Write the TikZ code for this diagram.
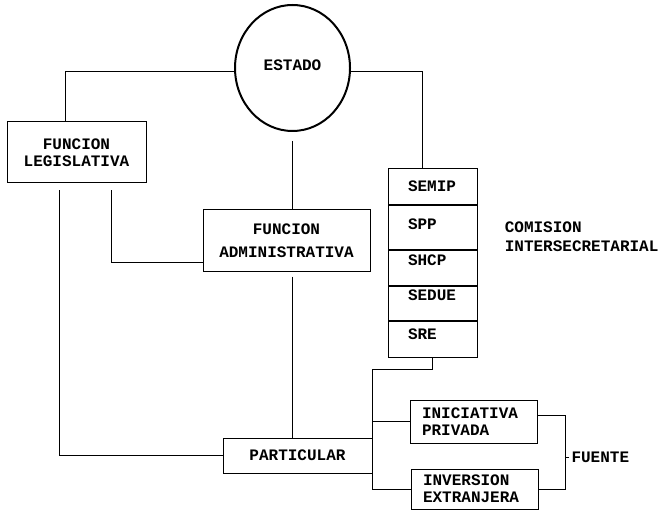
\documentclass[tikz,border=0pt]{standalone}
\usepackage{fontspec}
\setmonofont{Liberation Mono}
\usetikzlibrary{calc,positioning,shapes.geometric}

\begin{document}
\begin{tikzpicture}[x=1pt, y=-1pt, line width=1pt,
    every node/.style={font=\ttfamily\bfseries\fontsize{16}{17}\selectfont},
    box node/.style={draw, rectangle, inner sep=0pt, align=center},
    cell node/.style={draw, rectangle, text width=49pt, inner xsep=20pt,
                      inner ysep=0pt, align=left},
    list node/.style={draw, rectangle, text width=103pt, inner xsep=12pt,
                      inner ysep=0pt, align=left}]
    \useasboundingbox (0,0) rectangle (660,510);

    \node[ellipse, draw, line width=2pt, minimum width=115pt, minimum height=126pt] (estado) at (292.5,68) {\raisebox{5pt}{ESTADO}};
    \node[box node, minimum width=139pt, minimum height=61pt] (legis) at (76.5,152.5) {FUNCION\\LEGISLATIVA};
    \node[box node, minimum width=167pt, minimum height=61pt] (admin) at (286.5,240.5) {FUNCION\\[6pt]ADMINISTRATIVA};
    \node[box node, minimum width=149pt, minimum height=35pt] (part) at (297.5,455.5) {PARTICULAR};

    % comision intersecretarial
    \node[cell node, anchor=north, minimum height=36pt] (semip) at (432.5,168) {SEMIP};
    \node[cell node, minimum height=44pt, text depth=6pt] (spp) [below=0pt of semip] {SPP};
    \node[cell node, minimum height=35pt, text depth=15pt] (shcp) [below=0pt of spp] {SHCP};
    \node[cell node, minimum height=34pt, text depth=16pt] (sedue) [below=0pt of shcp] {SEDUE};
    \node[cell node, minimum height=36pt, text depth=10pt] (sre) [below=0pt of sedue] {SRE};
    \node[anchor=west, align=left] (comision) at (501,236.5) {COMISION\\[2pt]INTERSECRETARIAL};

    \node[list node, minimum height=43pt] (inic) at (473.5,421.5) {INICIATIVA\\PRIVADA};
    \node[list node, minimum height=40pt] (inver) at (474.5,489) {INVERSION\\EXTRANJERA};
    \node[anchor=west, inner sep=2pt] (fuente) at (569,457) {FUENTE};

    \coordinate (bus) at (372,369);

    \draw ($(estado.west)+(0,4)$) -| ($(legis.north)+(-11.5,0)$);
    \draw ($(estado.east)+(0,4)$) -| ($(semip.north)+(-10.5,0)$);
    \draw ($(estado.south)+(0,9)$) -- (estado.south |- admin.north);
    \draw ($(estado.south |- admin.south)+(0,5)$) -- (estado.south |- part.north);
    \draw ($(legis.south)+(-17.5,7)$) |- (part.west);
    \draw ($(legis.south)+(34.5,7)$) |- ($(admin.south west)+(0,-9)$);
    \draw (sre.south) -- (sre.south |- bus) -- (bus) -- (bus |- inver.west) -- (inver.west);
    \draw (bus |- inic.west) -- (inic.west);
    \draw ($(inic.east)+(0,-6)$) -- ++(28,0) coordinate (fr) |- (inver.east);
    \draw (fuente.west) -- (fr |- fuente.west);
\end{tikzpicture}
\end{document}
